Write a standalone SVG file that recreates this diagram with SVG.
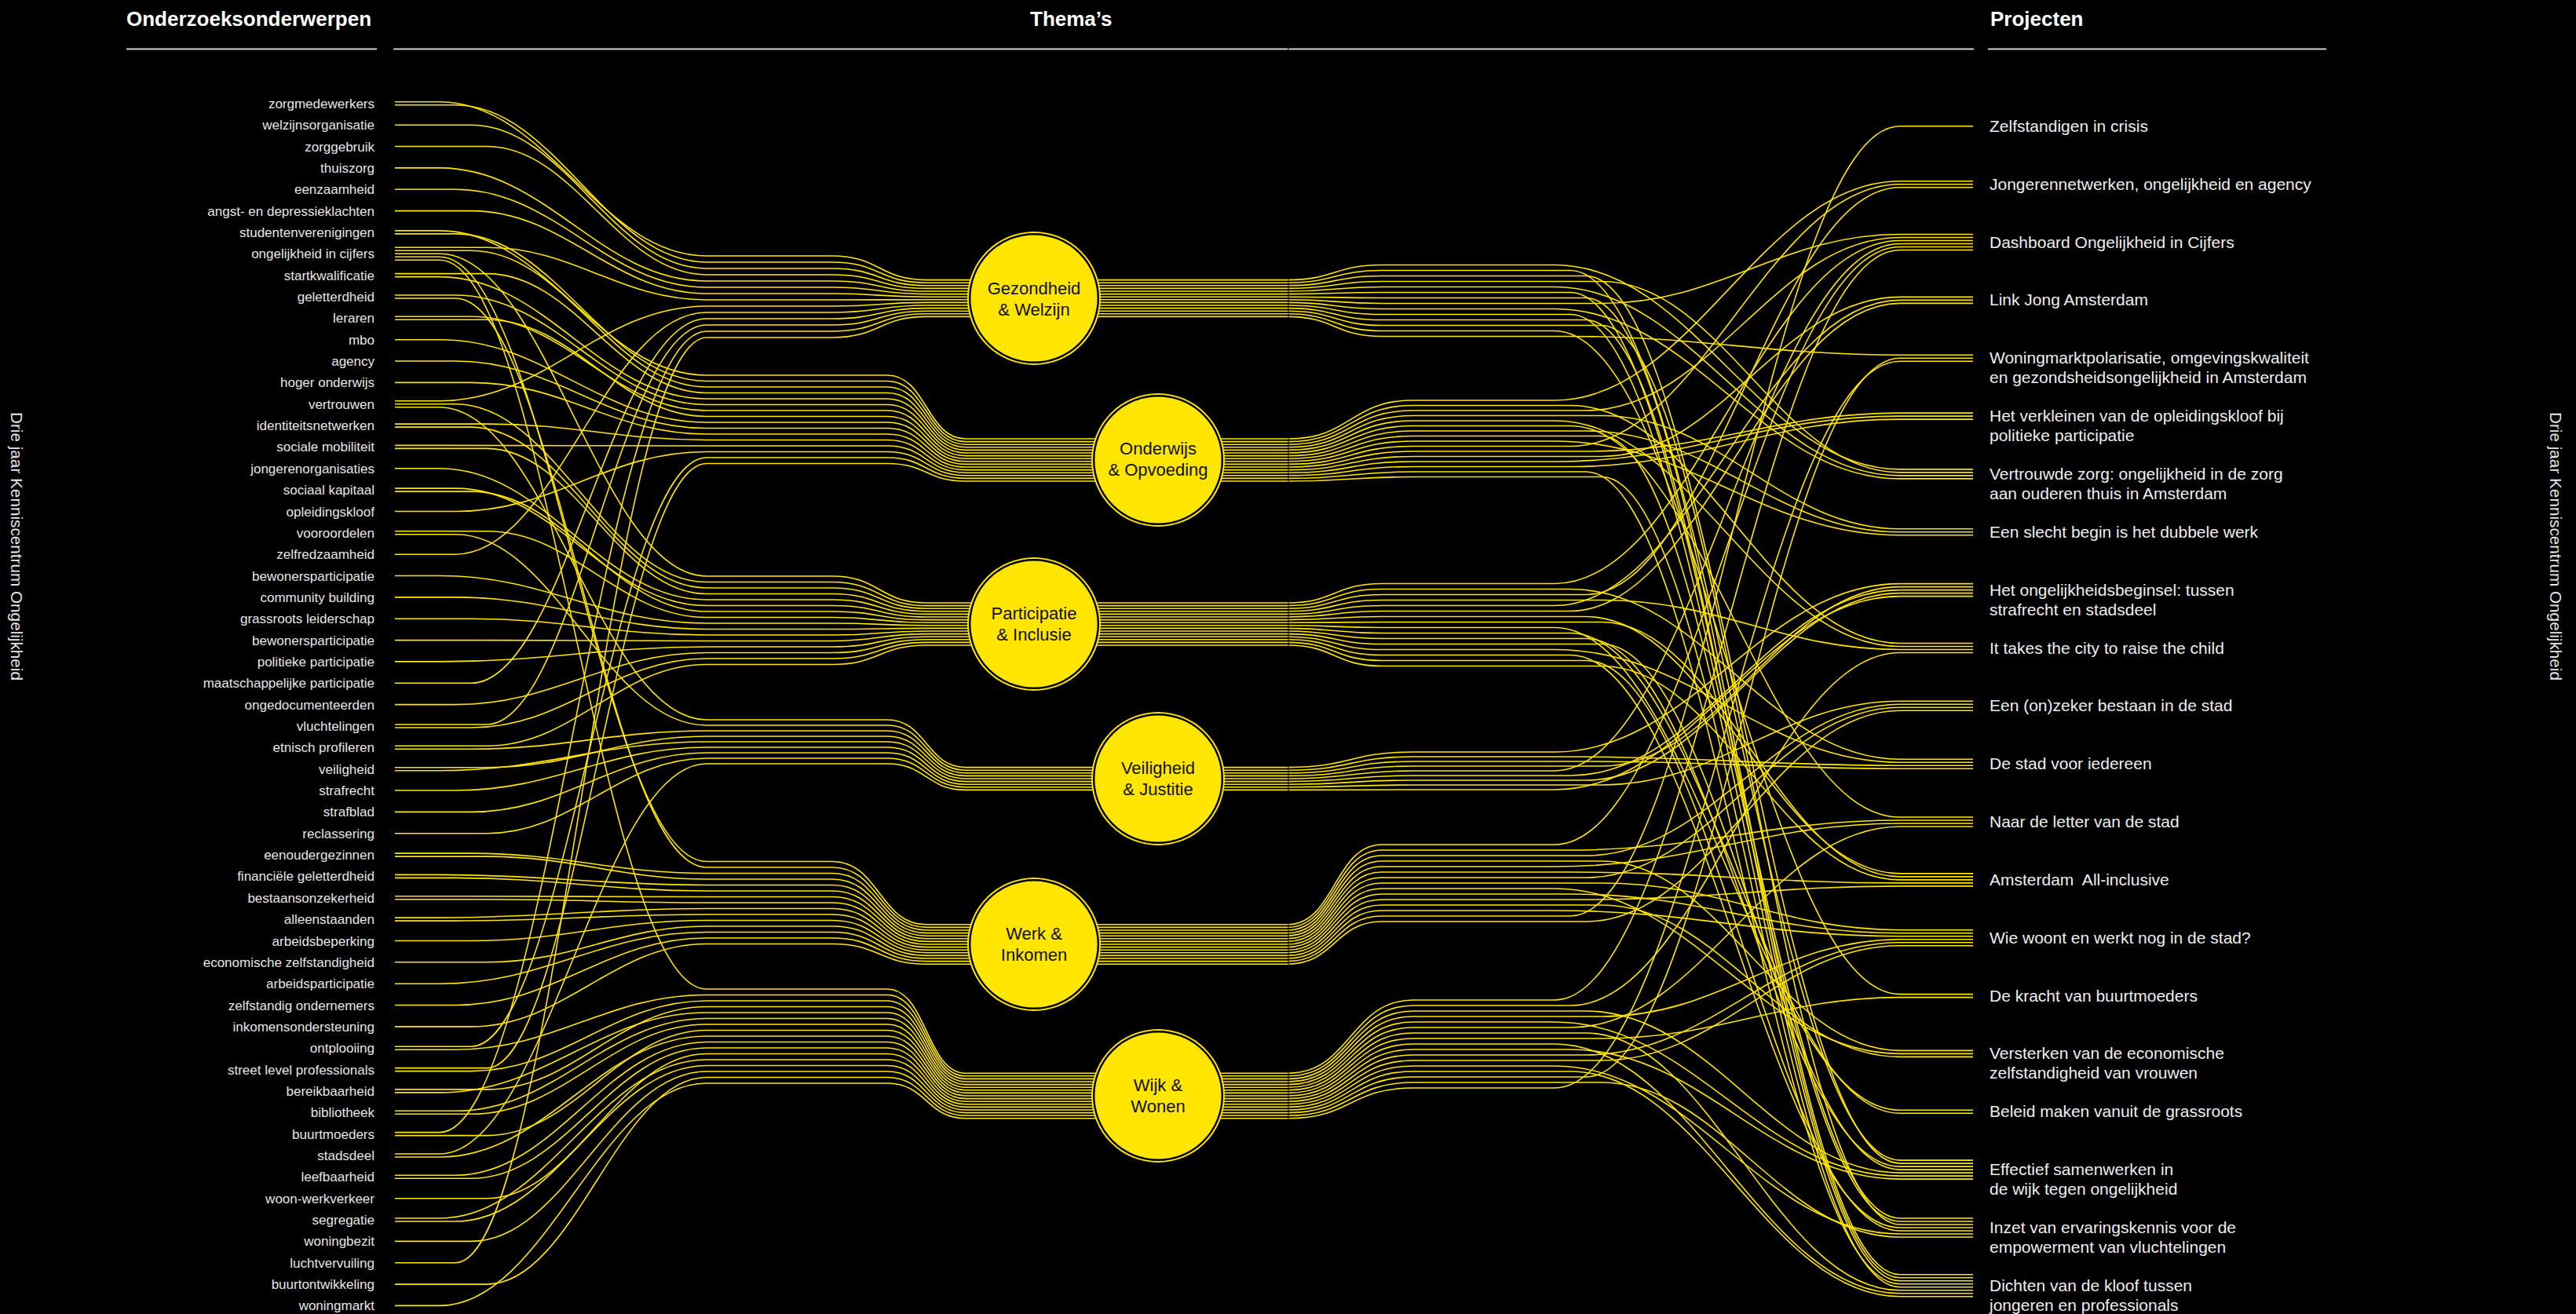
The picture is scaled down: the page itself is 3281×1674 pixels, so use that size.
<svg xmlns="http://www.w3.org/2000/svg" width="3281" height="1674" viewBox="0 0 3281 1674">
<style>
text{font-family:"Liberation Sans",Arial,sans-serif}
.h{font-size:26px;font-weight:bold;fill:#ffffff}
.hl{stroke:#cfcfcf;stroke-width:2}
.t{font-size:17px;fill:#e6e6e6;text-anchor:end}
.p{font-size:21px;fill:#eeeeee}
.s{font-size:21px;fill:#e6e6e6}
.c path{fill:none;stroke:#ffe600;stroke-width:1.6}
.o{fill:#ffe600}
.i{fill:#ffe600;stroke:#000;stroke-width:2.4}
.n text{font-size:22px;fill:#111;text-anchor:middle}
</style>
<rect width="3281" height="1674" fill="#000"/>
<g id="headers">
<text class="h" x="161" y="33">Onderzoeksonderwerpen</text>
<text class="h" x="1312" y="33">Thema’s</text>
<text class="h" x="2535" y="33">Projecten</text>
<line class="hl" x1="161" y1="62.5" x2="480" y2="62.5"/>
<line class="hl" x1="501" y1="62.5" x2="2514" y2="62.5"/>
<line class="hl" x1="2532" y1="62.5" x2="2963" y2="62.5"/>
</g>
<g id="side-labels">
<text class="s" transform="translate(14,525) rotate(90)" textLength="342" lengthAdjust="spacingAndGlyphs">Drie jaar Kenniscentrum Ongelijkheid</text>
<text class="s" transform="translate(3248,525) rotate(90)" textLength="342" lengthAdjust="spacingAndGlyphs">Drie jaar Kenniscentrum Ongelijkheid</text>
</g>
<g id="connectors" class="c">
<path d="M503 129.8H560C696 129.8 764 326 900 326H1060C1120 326 1120 356.6 1180 356.6H1640C1700 356.6 1700 337.5 1760 337.5H1980C2156 337.5 2244 597.9 2420 597.9H2513"/>
<path d="M503 133.8H580C708 133.8 772 334 900 334H1060C1120 334 1120 360.2 1180 360.2H1640C1700 360.2 1700 344.5 1760 344.5H2000C2168 344.5 2252 1478.1 2420 1478.1H2513"/>
<path d="M503 159.2H600C720 159.2 780 342 900 342H1060C1120 342 1120 363.8 1180 363.8H1640C1700 363.8 1700 351.5 1760 351.5H2020C2180 351.5 2260 1482.1 2420 1482.1H2513"/>
<path d="M503 186.5H620C732 186.5 788 350 900 350H1060C1120 350 1120 367.4 1180 367.4H1640C1700 367.4 1700 358.5 1760 358.5H2040C2192 358.5 2268 601.9 2420 601.9H2513"/>
<path d="M503 213.9H560C696 213.9 764 358 900 358H1060C1120 358 1120 371 1180 371H1640C1700 371 1700 365.5 1760 365.5H1980C2156 365.5 2244 605.9 2420 605.9H2513"/>
<path d="M503 241.2H580C708 241.2 772 366 900 366H1060C1120 366 1120 374.6 1180 374.6H1640C1700 374.6 1700 372.5 1760 372.5H2000C2168 372.5 2252 1552 2420 1552H2513"/>
<path d="M503 268.6H600C720 268.6 780 374 900 374H1060C1120 374 1120 378.2 1180 378.2H1640C1700 378.2 1700 379.5 1760 379.5H2020C2180 379.5 2260 1623.8 2420 1623.8H2513"/>
<path d="M503 315.3H620C732 315.3 788 382 900 382H1060C1120 382 1120 381.8 1180 381.8H1640C1700 381.8 1700 386.5 1760 386.5H2040C2192 386.5 2268 298.5 2420 298.5H2513"/>
<path d="M503 510.7H560C696 510.7 764 390 900 390H1060C1120 390 1120 385.4 1180 385.4H1640C1700 385.4 1700 393.5 1760 393.5H1980C2156 393.5 2244 609.9 2420 609.9H2513"/>
<path d="M503 706.2H580C708 706.2 772 398 900 398H1060C1120 398 1120 389 1180 389H1640C1700 389 1700 400.5 1760 400.5H2000C2168 400.5 2252 1556 2420 1556H2513"/>
<path d="M503 870.3H600C720 870.3 780 406 900 406H1060C1120 406 1120 392.6 1180 392.6H1640C1700 392.6 1700 407.5 1760 407.5H2020C2180 407.5 2260 1627.8 2420 1627.8H2513"/>
<path d="M503 923H620C732 923 788 414 900 414H1060C1120 414 1120 396.2 1180 396.2H1640C1700 396.2 1700 414.5 1760 414.5H2040C2192 414.5 2268 1560 2420 1560H2513"/>
<path d="M503 1442.6H560C696 1442.6 764 422 900 422H1060C1120 422 1120 399.8 1180 399.8H1640C1700 399.8 1700 421.5 1760 421.5H1980C2156 421.5 2244 1266.6 2420 1266.6H2513"/>
<path d="M503 1608.7H580C708 1608.7 772 430 900 430H1060C1120 430 1120 403.4 1180 403.4H1640C1700 403.4 1700 428.5 1760 428.5H2000C2168 428.5 2252 452.2 2420 452.2H2513"/>
<path d="M503 293.9H560C696 293.9 764 478 900 478H1130C1180 478 1180 559 1230 559H1641C1720 559 1720 510 1800 510H1980C2156 510 2244 230.7 2420 230.7H2513"/>
<path d="M503 297.9H580C708 297.9 772 485.5 900 485.5H1130C1180 485.5 1180 562.6 1230 562.6H1641C1720 562.6 1720 516.5 1800 516.5H2000C2168 516.5 2252 819.5 2420 819.5H2513"/>
<path d="M503 319.3H600C720 319.3 780 493 900 493H1130C1180 493 1180 566.2 1230 566.2H1641C1720 566.2 1720 523 1800 523H2020C2180 523 2260 302.5 2420 302.5H2513"/>
<path d="M503 348.6H620C732 348.6 788 500.5 900 500.5H1130C1180 500.5 1180 569.8 1230 569.8H1641C1720 569.8 1720 529.5 1800 529.5H2040C2192 529.5 2268 673.8 2420 673.8H2513"/>
<path d="M503 352.6H560C696 352.6 764 508 900 508H1130C1180 508 1180 573.4 1230 573.4H1641C1720 573.4 1720 536 1800 536H1980C2156 536 2244 823.5 2420 823.5H2513"/>
<path d="M503 376H580C708 376 772 515.5 900 515.5H1130C1180 515.5 1180 577 1230 577H1641C1720 577 1720 542.5 1800 542.5H2000C2168 542.5 2252 1041 2420 1041H2513"/>
<path d="M503 403.3H600C720 403.3 780 523 900 523H1130C1180 523 1180 580.6 1230 580.6H1641C1720 580.6 1720 549 1800 549H2020C2180 549 2260 677.8 2420 677.8H2513"/>
<path d="M503 407.3H620C732 407.3 788 530.5 900 530.5H1130C1180 530.5 1180 584.2 1230 584.2H1641C1720 584.2 1720 555.5 1800 555.5H2040C2192 555.5 2268 1631.8 2420 1631.8H2513"/>
<path d="M503 432.7H560C696 432.7 764 538 900 538H1130C1180 538 1180 587.8 1230 587.8H1641C1720 587.8 1720 562 1800 562H1980C2156 562 2244 681.8 2420 681.8H2513"/>
<path d="M503 460H580C708 460 772 545.5 900 545.5H1130C1180 545.5 1180 591.4 1230 591.4H1641C1720 591.4 1720 568.5 1800 568.5H2000C2168 568.5 2252 234.7 2420 234.7H2513"/>
<path d="M503 487.4H600C720 487.4 780 553 900 553H1130C1180 553 1180 595 1230 595H1641C1720 595 1720 575 1800 575H2020C2180 575 2260 526.1 2420 526.1H2513"/>
<path d="M503 540.1H620C732 540.1 788 560.5 900 560.5H1130C1180 560.5 1180 598.6 1230 598.6H1641C1720 598.6 1720 581.5 1800 581.5H2040C2192 581.5 2268 378.4 2420 378.4H2513"/>
<path d="M503 567.4H560C696 567.4 764 568 900 568H1130C1180 568 1180 602.2 1230 602.2H1641C1720 602.2 1720 588 1800 588H1980C2156 588 2244 530.1 2420 530.1H2513"/>
<path d="M503 651.5H580C708 651.5 772 575.5 900 575.5H1130C1180 575.5 1180 605.8 1230 605.8H1641C1720 605.8 1720 594.5 1800 594.5H2000C2168 594.5 2252 534.1 2420 534.1H2513"/>
<path d="M503 1333.2H600C720 1333.2 780 583 900 583H1130C1180 583 1180 609.4 1230 609.4H1641C1720 609.4 1720 601 1800 601H2020C2180 601 2260 1635.8 2420 1635.8H2513"/>
<path d="M503 1360.6H620C732 1360.6 788 590.5 900 590.5H1130C1180 590.5 1180 613 1230 613H1641C1720 613 1720 607.5 1800 607.5H2040C2192 607.5 2268 1639.8 2420 1639.8H2513"/>
<path d="M503 323.3H560C696 323.3 764 734 900 734H1060C1120 734 1120 768 1180 768H1640C1700 768 1700 743.5 1760 743.5H1980C2156 743.5 2244 306.5 2420 306.5H2513"/>
<path d="M503 514.7H580C708 514.7 772 741.5 900 741.5H1060C1120 741.5 1120 771.6 1180 771.6H1640C1700 771.6 1700 750.5 1760 750.5H2000C2168 750.5 2252 967.2 2420 967.2H2513"/>
<path d="M503 544.1H600C720 544.1 780 749 900 749H1060C1120 749 1120 775.2 1180 775.2H1640C1700 775.2 1700 757.5 1760 757.5H2020C2180 757.5 2260 238.7 2420 238.7H2513"/>
<path d="M503 571.4H620C732 571.4 788 756.5 900 756.5H1060C1120 756.5 1120 778.8 1180 778.8H1640C1700 778.8 1700 764.5 1760 764.5H2040C2192 764.5 2268 827.5 2420 827.5H2513"/>
<path d="M503 596.8H560C696 596.8 764 764 900 764H1060C1120 764 1120 782.4 1180 782.4H1640C1700 782.4 1700 771.5 1760 771.5H1980C2156 771.5 2244 382.4 2420 382.4H2513"/>
<path d="M503 622.1H580C708 622.1 772 771.5 900 771.5H1060C1120 771.5 1120 786 1180 786H1640C1700 786 1700 778.5 1760 778.5H2000C2168 778.5 2252 386.4 2420 386.4H2513"/>
<path d="M503 626.1H600C720 626.1 780 779 900 779H1060C1120 779 1120 789.6 1180 789.6H1640C1700 789.6 1700 785.5 1760 785.5H2020C2180 785.5 2260 1112.9 2420 1112.9H2513"/>
<path d="M503 676.8H620C732 676.8 788 786.5 900 786.5H1060C1120 786.5 1120 793.2 1180 793.2H1640C1700 793.2 1700 792.5 1760 792.5H2040C2192 792.5 2268 1116.9 2420 1116.9H2513"/>
<path d="M503 733.5H560C696 733.5 764 794 900 794H1060C1120 794 1120 796.8 1180 796.8H1640C1700 796.8 1700 799.5 1760 799.5H1980C2156 799.5 2244 1414.3 2420 1414.3H2513"/>
<path d="M503 760.9H580C708 760.9 772 801.5 900 801.5H1060C1120 801.5 1120 800.4 1180 800.4H1640C1700 800.4 1700 806.5 1760 806.5H2000C2168 806.5 2252 1418.3 2420 1418.3H2513"/>
<path d="M503 788.2H600C720 788.2 780 809 900 809H1060C1120 809 1120 804 1180 804H1640C1700 804 1700 813.5 1760 813.5H2020C2180 813.5 2260 1486.1 2420 1486.1H2513"/>
<path d="M503 815.6H620C732 815.6 788 816.5 900 816.5H1060C1120 816.5 1120 807.6 1180 807.6H1640C1700 807.6 1700 820.5 1760 820.5H2040C2192 820.5 2268 1490.1 2420 1490.1H2513"/>
<path d="M503 842.9H560C696 842.9 764 824 900 824H1060C1120 824 1120 811.2 1180 811.2H1640C1700 811.2 1700 827.5 1760 827.5H1980C2156 827.5 2244 971.2 2420 971.2H2513"/>
<path d="M503 897.6H580C708 897.6 772 831.5 900 831.5H1060C1120 831.5 1120 814.8 1180 814.8H1640C1700 814.8 1700 834.5 1760 834.5H2000C2168 834.5 2252 1564 2420 1564H2513"/>
<path d="M503 927H600C720 927 780 839 900 839H1060C1120 839 1120 818.4 1180 818.4H1640C1700 818.4 1700 841.5 1760 841.5H2020C2180 841.5 2260 1568 2420 1568H2513"/>
<path d="M503 950.3H620C732 950.3 788 846.5 900 846.5H1060C1120 846.5 1120 822 1180 822H1640C1700 822 1700 848.5 1760 848.5H2040C2192 848.5 2268 1120.9 2420 1120.9H2513"/>
<path d="M503 518.7H560C696 518.7 764 917 900 917H1130C1180 917 1180 977.6 1230 977.6H1641C1720 977.6 1720 958 1800 958H1980C2156 958 2244 743.6 2420 743.6H2513"/>
<path d="M503 680.8H580C708 680.8 772 924 900 924H1130C1180 924 1180 981.2 1230 981.2H1641C1720 981.2 1720 964 1800 964H2000C2168 964 2252 975.2 2420 975.2H2513"/>
<path d="M503 954.3H600C720 954.3 780 931 900 931H1130C1180 931 1180 984.8 1230 984.8H1641C1720 984.8 1720 970 1800 970H2020C2180 970 2260 979.2 2420 979.2H2513"/>
<path d="M503 977.7H620C732 977.7 788 938 900 938H1130C1180 938 1180 988.4 1230 988.4H1641C1720 988.4 1720 976 1800 976H2040C2192 976 2268 747.6 2420 747.6H2513"/>
<path d="M503 981.7H560C696 981.7 764 945 900 945H1130C1180 945 1180 992 1230 992H1641C1720 992 1720 982 1800 982H1980C2156 982 2244 310.5 2420 310.5H2513"/>
<path d="M503 1007H580C708 1007 772 952 900 952H1130C1180 952 1180 995.6 1230 995.6H1641C1720 995.6 1720 988 1800 988H2000C2168 988 2252 751.6 2420 751.6H2513"/>
<path d="M503 1034.4H600C720 1034.4 780 959 900 959H1130C1180 959 1180 999.2 1230 999.2H1641C1720 999.2 1720 994 1800 994H2020C2180 994 2260 755.6 2420 755.6H2513"/>
<path d="M503 1061.7H620C732 1061.7 788 966 900 966H1130C1180 966 1180 1002.8 1230 1002.8H1641C1720 1002.8 1720 1000 1800 1000H2040C2192 1000 2268 893.3 2420 893.3H2513"/>
<path d="M503 1470H560C696 1470 764 973 900 973H1130C1180 973 1180 1006.4 1230 1006.4H1641C1720 1006.4 1720 1006 1800 1006H1980C2156 1006 2244 759.6 2420 759.6H2513"/>
<path d="M503 327.3H560C696 327.3 764 1097.5 900 1097.5H1060C1120 1097.5 1120 1177.8 1180 1177.8H1640C1700 1177.8 1700 1076 1760 1076H1980C2156 1076 2244 314.5 2420 314.5H2513"/>
<path d="M503 380H580C708 380 772 1105 900 1105H1060C1120 1105 1120 1181.4 1180 1181.4H1640C1700 1181.4 1700 1083 1760 1083H2000C2168 1083 2252 1045 2420 1045H2513"/>
<path d="M503 1087.1H600C720 1087.1 780 1112.5 900 1112.5H1060C1120 1112.5 1120 1185 1180 1185H1640C1700 1185 1700 1090 1760 1090H2020C2180 1090 2260 897.3 2420 897.3H2513"/>
<path d="M503 1091.1H620C732 1091.1 788 1120 900 1120H1060C1120 1120 1120 1188.6 1180 1188.6H1640C1700 1188.6 1700 1097 1760 1097H2040C2192 1097 2268 1338.4 2420 1338.4H2513"/>
<path d="M503 1114.4H560C696 1114.4 764 1127.5 900 1127.5H1060C1120 1127.5 1120 1192.2 1180 1192.2H1640C1700 1192.2 1700 1104 1760 1104H1980C2156 1104 2244 1049 2420 1049H2513"/>
<path d="M503 1118.4H580C708 1118.4 772 1135 900 1135H1060C1120 1135 1120 1195.8 1180 1195.8H1640C1700 1195.8 1700 1111 1760 1111H2000C2168 1111 2252 1124.9 2420 1124.9H2513"/>
<path d="M503 1141.8H600C720 1141.8 780 1142.5 900 1142.5H1060C1120 1142.5 1120 1199.4 1180 1199.4H1640C1700 1199.4 1700 1118 1760 1118H2020C2180 1118 2260 901.3 2420 901.3H2513"/>
<path d="M503 1145.8H620C732 1145.8 788 1150 900 1150H1060C1120 1150 1120 1203 1180 1203H1640C1700 1203 1700 1125 1760 1125H2040C2192 1125 2268 1184.7 2420 1184.7H2513"/>
<path d="M503 1169.1H560C696 1169.1 764 1157.5 900 1157.5H1060C1120 1157.5 1120 1206.6 1180 1206.6H1640C1700 1206.6 1700 1132 1760 1132H1980C2156 1132 2244 1342.4 2420 1342.4H2513"/>
<path d="M503 1173.1H580C708 1173.1 772 1165 900 1165H1060C1120 1165 1120 1210.2 1180 1210.2H1640C1700 1210.2 1700 1139 1760 1139H2000C2168 1139 2252 1188.7 2420 1188.7H2513"/>
<path d="M503 1198.5H600C720 1198.5 780 1172.5 900 1172.5H1060C1120 1172.5 1120 1213.8 1180 1213.8H1640C1700 1213.8 1700 1146 1760 1146H2020C2180 1146 2260 1128.9 2420 1128.9H2513"/>
<path d="M503 1225.8H620C732 1225.8 788 1180 900 1180H1060C1120 1180 1120 1217.4 1180 1217.4H1640C1700 1217.4 1700 1153 1760 1153H2040C2192 1153 2268 1346.4 2420 1346.4H2513"/>
<path d="M503 1253.2H560C696 1253.2 764 1187.5 900 1187.5H1060C1120 1187.5 1120 1221 1180 1221H1640C1700 1221 1700 1160 1760 1160H1980C2156 1160 2244 1192.7 2420 1192.7H2513"/>
<path d="M503 1280.5H580C708 1280.5 772 1195 900 1195H1060C1120 1195 1120 1224.6 1180 1224.6H1640C1700 1224.6 1700 1167 1760 1167H2000C2168 1167 2252 160.8 2420 160.8H2513"/>
<path d="M503 1307.9H600C720 1307.9 780 1202.5 900 1202.5H1060C1120 1202.5 1120 1228.2 1180 1228.2H1640C1700 1228.2 1700 1174 1760 1174H2020C2180 1174 2260 905.3 2420 905.3H2513"/>
<path d="M503 331.3H560C696 331.3 764 1260 900 1260H1130C1180 1260 1180 1367.2 1230 1367.2H1641C1720 1367.2 1720 1274 1800 1274H1980C2156 1274 2244 318.5 2420 318.5H2513"/>
<path d="M503 1337.2H580C708 1337.2 772 1267.5 900 1267.5H1130C1180 1267.5 1180 1370.8 1230 1370.8H1641C1720 1370.8 1720 1281 1800 1281H2000C2168 1281 2252 831.5 2420 831.5H2513"/>
<path d="M503 1364.6H600C720 1364.6 780 1275 900 1275H1130C1180 1275 1180 1374.4 1230 1374.4H1641C1720 1374.4 1720 1288 1800 1288H2020C2180 1288 2260 1494.1 2420 1494.1H2513"/>
<path d="M503 1387.9H620C732 1387.9 788 1282.5 900 1282.5H1130C1180 1282.5 1180 1378 1230 1378H1641C1720 1378 1720 1295 1800 1295H2040C2192 1295 2268 1196.7 2420 1196.7H2513"/>
<path d="M503 1391.9H560C696 1391.9 764 1290 900 1290H1130C1180 1290 1180 1381.6 1230 1381.6H1641C1720 1381.6 1720 1302 1800 1302H1980C2156 1302 2244 1498.1 2420 1498.1H2513"/>
<path d="M503 1415.3H580C708 1415.3 772 1297.5 900 1297.5H1130C1180 1297.5 1180 1385.2 1230 1385.2H1641C1720 1385.2 1720 1309 1800 1309H2000C2168 1309 2252 1053 2420 1053H2513"/>
<path d="M503 1419.3H600C720 1419.3 780 1305 900 1305H1130C1180 1305 1180 1388.8 1230 1388.8H1641C1720 1388.8 1720 1316 1800 1316H2020C2180 1316 2260 1643.8 2420 1643.8H2513"/>
<path d="M503 1446.6H620C732 1446.6 788 1312.5 900 1312.5H1130C1180 1312.5 1180 1392.4 1230 1392.4H1641C1720 1392.4 1720 1323 1800 1323H2040C2192 1323 2268 1270.6 2420 1270.6H2513"/>
<path d="M503 1474H560C696 1474 764 1320 900 1320H1130C1180 1320 1180 1396 1230 1396H1641C1720 1396 1720 1330 1800 1330H1980C2156 1330 2244 1647.8 2420 1647.8H2513"/>
<path d="M503 1497.3H580C708 1497.3 772 1327.5 900 1327.5H1130C1180 1327.5 1180 1399.6 1230 1399.6H1641C1720 1399.6 1720 1337 1800 1337H2000C2168 1337 2252 1502.1 2420 1502.1H2513"/>
<path d="M503 1501.3H600C720 1501.3 780 1335 900 1335H1130C1180 1335 1180 1403.2 1230 1403.2H1641C1720 1403.2 1720 1344 1800 1344H2020C2180 1344 2260 1200.7 2420 1200.7H2513"/>
<path d="M503 1526.7H620C732 1526.7 788 1342.5 900 1342.5H1130C1180 1342.5 1180 1406.8 1230 1406.8H1641C1720 1406.8 1720 1351 1800 1351H2040C2192 1351 2268 1204.7 2420 1204.7H2513"/>
<path d="M503 1552H560C696 1552 764 1350 900 1350H1130C1180 1350 1180 1410.4 1230 1410.4H1641C1720 1410.4 1720 1358 1800 1358H1980C2156 1358 2244 1572 2420 1572H2513"/>
<path d="M503 1556H580C708 1556 772 1357.5 900 1357.5H1130C1180 1357.5 1180 1414 1230 1414H1641C1720 1414 1720 1365 1800 1365H2000C2168 1365 2252 1651.8 2420 1651.8H2513"/>
<path d="M503 1581.4H600C720 1581.4 780 1365 900 1365H1130C1180 1365 1180 1417.6 1230 1417.6H1641C1720 1417.6 1720 1372 1800 1372H2020C2180 1372 2260 456.2 2420 456.2H2513"/>
<path d="M503 1636.1H620C732 1636.1 788 1372.5 900 1372.5H1130C1180 1372.5 1180 1421.2 1230 1421.2H1641C1720 1421.2 1720 1379 1800 1379H2040C2192 1379 2268 1576 2420 1576H2513"/>
<path d="M503 1663.4H560C696 1663.4 764 1380 900 1380H1130C1180 1380 1180 1424.8 1230 1424.8H1641C1720 1424.8 1720 1386 1800 1386H1980C2156 1386 2244 460.2 2420 460.2H2513"/>
</g>
<line x1="1641" y1="61" x2="1641" y2="1674" stroke="#000" stroke-width="1"/>
<g id="theme-gezondheid" class="n"><circle class="o" cx="1317" cy="380" r="85"/><circle class="i" cx="1317" cy="380" r="81.8"/><text x="1317" y="375">Gezondheid</text><text x="1317" y="402">&amp; Welzijn</text></g>
<g id="theme-onderwijs" class="n"><circle class="o" cx="1475" cy="586" r="85"/><circle class="i" cx="1475" cy="586" r="81.8"/><text x="1475" y="579">Onderwijs</text><text x="1475" y="606">&amp; Opvoeding</text></g>
<g id="theme-participatie" class="n"><circle class="o" cx="1317" cy="795" r="85"/><circle class="i" cx="1317" cy="795" r="81.8"/><text x="1317" y="789">Participatie</text><text x="1317" y="816">&amp; Inclusie</text></g>
<g id="theme-veiligheid" class="n"><circle class="o" cx="1475" cy="992" r="85"/><circle class="i" cx="1475" cy="992" r="81.8"/><text x="1475" y="986">Veiligheid</text><text x="1475" y="1013">&amp; Justitie</text></g>
<g id="theme-werk" class="n"><circle class="o" cx="1317" cy="1203" r="85"/><circle class="i" cx="1317" cy="1203" r="81.8"/><text x="1317" y="1197">Werk &amp;</text><text x="1317" y="1224">Inkomen</text></g>
<g id="theme-wijk" class="n"><circle class="o" cx="1475" cy="1396" r="85"/><circle class="i" cx="1475" cy="1396" r="81.8"/><text x="1475" y="1390">Wijk &amp;</text><text x="1475" y="1417">Wonen</text></g>
<g id="topics">
<g id="topic-01"><text class="t" x="477" y="137.8">zorgmedewerkers</text></g>
<g id="topic-02"><text class="t" x="477" y="165.2">welzijnsorganisatie</text></g>
<g id="topic-03"><text class="t" x="477" y="192.5">zorggebruik</text></g>
<g id="topic-04"><text class="t" x="477" y="219.9">thuiszorg</text></g>
<g id="topic-05"><text class="t" x="477" y="247.2">eenzaamheid</text></g>
<g id="topic-06"><text class="t" x="477" y="274.6">angst- en depressieklachten</text></g>
<g id="topic-07"><text class="t" x="477" y="301.9">studentenverenigingen</text></g>
<g id="topic-08"><text class="t" x="477" y="329.3">ongelijkheid in cijfers</text></g>
<g id="topic-09"><text class="t" x="477" y="356.6">startkwalificatie</text></g>
<g id="topic-10"><text class="t" x="477" y="384">geletterdheid</text></g>
<g id="topic-11"><text class="t" x="477" y="411.3">leraren</text></g>
<g id="topic-12"><text class="t" x="477" y="438.7">mbo</text></g>
<g id="topic-13"><text class="t" x="477" y="466">agency</text></g>
<g id="topic-14"><text class="t" x="477" y="493.4">hoger onderwijs</text></g>
<g id="topic-15"><text class="t" x="477" y="520.7">vertrouwen</text></g>
<g id="topic-16"><text class="t" x="477" y="548.1">identiteitsnetwerken</text></g>
<g id="topic-17"><text class="t" x="477" y="575.4">sociale mobiliteit</text></g>
<g id="topic-18"><text class="t" x="477" y="602.8">jongerenorganisaties</text></g>
<g id="topic-19"><text class="t" x="477" y="630.1">sociaal kapitaal</text></g>
<g id="topic-20"><text class="t" x="477" y="657.5">opleidingskloof</text></g>
<g id="topic-21"><text class="t" x="477" y="684.8">vooroordelen</text></g>
<g id="topic-22"><text class="t" x="477" y="712.2">zelfredzaamheid</text></g>
<g id="topic-23"><text class="t" x="477" y="739.5">bewonersparticipatie</text></g>
<g id="topic-24"><text class="t" x="477" y="766.9">community building</text></g>
<g id="topic-25"><text class="t" x="477" y="794.2">grassroots leiderschap</text></g>
<g id="topic-26"><text class="t" x="477" y="821.6">bewonersparticipatie</text></g>
<g id="topic-27"><text class="t" x="477" y="848.9">politieke participatie</text></g>
<g id="topic-28"><text class="t" x="477" y="876.3">maatschappelijke participatie</text></g>
<g id="topic-29"><text class="t" x="477" y="903.6">ongedocumenteerden</text></g>
<g id="topic-30"><text class="t" x="477" y="931">vluchtelingen</text></g>
<g id="topic-31"><text class="t" x="477" y="958.3">etnisch profileren</text></g>
<g id="topic-32"><text class="t" x="477" y="985.7">veiligheid</text></g>
<g id="topic-33"><text class="t" x="477" y="1013">strafrecht</text></g>
<g id="topic-34"><text class="t" x="477" y="1040.4">strafblad</text></g>
<g id="topic-35"><text class="t" x="477" y="1067.7">reclassering</text></g>
<g id="topic-36"><text class="t" x="477" y="1095.1">eenoudergezinnen</text></g>
<g id="topic-37"><text class="t" x="477" y="1122.4">financiële geletterdheid</text></g>
<g id="topic-38"><text class="t" x="477" y="1149.8">bestaansonzekerheid</text></g>
<g id="topic-39"><text class="t" x="477" y="1177.1">alleenstaanden</text></g>
<g id="topic-40"><text class="t" x="477" y="1204.5">arbeidsbeperking</text></g>
<g id="topic-41"><text class="t" x="477" y="1231.8">economische zelfstandigheid</text></g>
<g id="topic-42"><text class="t" x="477" y="1259.2">arbeidsparticipatie</text></g>
<g id="topic-43"><text class="t" x="477" y="1286.5">zelfstandig ondernemers</text></g>
<g id="topic-44"><text class="t" x="477" y="1313.9">inkomensondersteuning</text></g>
<g id="topic-45"><text class="t" x="477" y="1341.2">ontplooiing</text></g>
<g id="topic-46"><text class="t" x="477" y="1368.6">street level professionals</text></g>
<g id="topic-47"><text class="t" x="477" y="1395.9">bereikbaarheid</text></g>
<g id="topic-48"><text class="t" x="477" y="1423.3">bibliotheek</text></g>
<g id="topic-49"><text class="t" x="477" y="1450.6">buurtmoeders</text></g>
<g id="topic-50"><text class="t" x="477" y="1478">stadsdeel</text></g>
<g id="topic-51"><text class="t" x="477" y="1505.3">leefbaarheid</text></g>
<g id="topic-52"><text class="t" x="477" y="1532.7">woon-werkverkeer</text></g>
<g id="topic-53"><text class="t" x="477" y="1560">segregatie</text></g>
<g id="topic-54"><text class="t" x="477" y="1587.4">woningbezit</text></g>
<g id="topic-55"><text class="t" x="477" y="1614.7">luchtvervuiling</text></g>
<g id="topic-56"><text class="t" x="477" y="1642.1">buurtontwikkeling</text></g>
<g id="topic-57"><text class="t" x="477" y="1669.4">woningmarkt</text></g>
</g>
<g id="projects">
<g id="project-01"><text class="p" x="2534" y="167.8">Zelfstandigen in crisis</text></g>
<g id="project-02"><text class="p" x="2534" y="241.7">Jongerennetwerken, ongelijkheid en agency</text></g>
<g id="project-03"><text class="p" x="2534" y="315.5">Dashboard Ongelijkheid in Cijfers</text></g>
<g id="project-04"><text class="p" x="2534" y="389.4">Link Jong Amsterdam</text></g>
<g id="project-05"><text class="p" x="2534" y="463.2">Woningmarktpolarisatie, omgevingskwaliteit</text><text class="p" x="2534" y="488.2">en gezondsheidsongelijkheid in Amsterdam</text></g>
<g id="project-06"><text class="p" x="2534" y="537.1">Het verkleinen van de opleidingskloof bij</text><text class="p" x="2534" y="562.1">politieke participatie</text></g>
<g id="project-07"><text class="p" x="2534" y="610.9">Vertrouwde zorg: ongelijkheid in de zorg</text><text class="p" x="2534" y="635.9">aan ouderen thuis in Amsterdam</text></g>
<g id="project-08"><text class="p" x="2534" y="684.8">Een slecht begin is het dubbele werk</text></g>
<g id="project-09"><text class="p" x="2534" y="758.6">Het ongelijkheidsbeginsel: tussen</text><text class="p" x="2534" y="783.6">strafrecht en stadsdeel</text></g>
<g id="project-10"><text class="p" x="2534" y="832.5">It takes the city to raise the child</text></g>
<g id="project-11"><text class="p" x="2534" y="906.3">Een (on)zeker bestaan in de stad</text></g>
<g id="project-12"><text class="p" x="2534" y="980.2">De stad voor iedereen</text></g>
<g id="project-13"><text class="p" x="2534" y="1054">Naar de letter van de stad</text></g>
<g id="project-14"><text class="p" x="2534" y="1127.9">Amsterdam&#160; All-inclusive</text></g>
<g id="project-15"><text class="p" x="2534" y="1201.7">Wie woont en werkt nog in de stad?</text></g>
<g id="project-16"><text class="p" x="2534" y="1275.6">De kracht van buurtmoeders</text></g>
<g id="project-17"><text class="p" x="2534" y="1349.4">Versterken van de economische</text><text class="p" x="2534" y="1374.4">zelfstandigheid van vrouwen</text></g>
<g id="project-18"><text class="p" x="2534" y="1423.3">Beleid maken vanuit de grassroots</text></g>
<g id="project-19"><text class="p" x="2534" y="1497.1">Effectief samenwerken in</text><text class="p" x="2534" y="1522.1">de wijk tegen ongelijkheid</text></g>
<g id="project-20"><text class="p" x="2534" y="1571">Inzet van ervaringskennis voor de</text><text class="p" x="2534" y="1596">empowerment van vluchtelingen</text></g>
<g id="project-21"><text class="p" x="2534" y="1644.8">Dichten van de kloof tussen</text><text class="p" x="2534" y="1669.8">jongeren en professionals</text></g>
</g>
</svg>
